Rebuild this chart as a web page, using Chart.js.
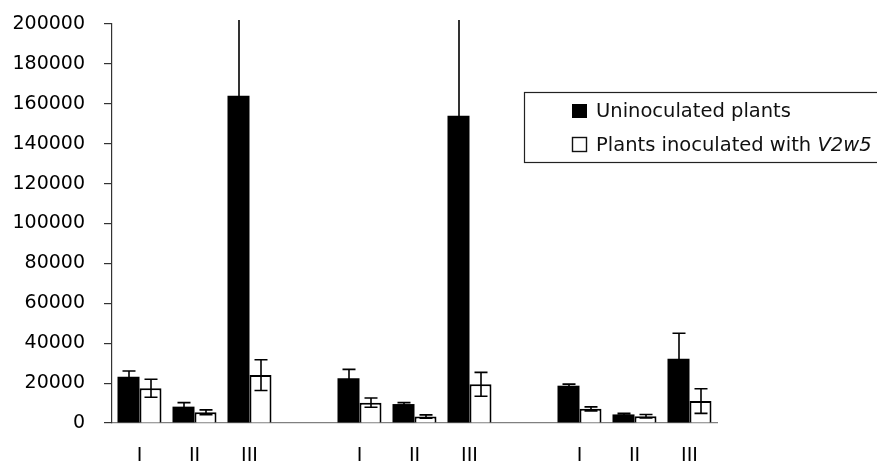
<!DOCTYPE html>
<html>
<head>
<meta charset="utf-8">
<script src="https://cdn.jsdelivr.net/npm/chart.js@4.4.1/dist/chart.umd.min.js"></script>
<style>
  html, body { margin: 0; padding: 0; background: #fff; overflow: hidden; }
  #wrap { width: 877px; height: 463px; position: relative; }
</style>
</head>
<body>
<div id="wrap"><canvas id="chart"></canvas></div>
<script>
// categories: three groups of I, II, III with an empty slot between groups
const categories = ['I', 'II', 'III', '', 'I', 'II', 'III', '', 'I', 'II', 'III'];

const uninoculated    = [23200, 8200, 164000, null, 22400, 9500, 154000, null, 18700, 4300, 32200];
const uninoculatedErr = [2900, 2000, 60000, null, 4500, 700, 60000, null, 800, 500, 12800];

const inoculated    = [17400, 5400, 24000, null, 10200, 3200, 19400, null, 7100, 3400, 11000];
const inoculatedErr = [4500, 1200, 7700, null, 2300, 850, 6000, null, 1000, 850, 6200];

const seriesLabels = ['Uninoculated plants', 'Plants inoculated with V2w5'];
const italicTerm = 'V2w5';

const yTicks = { min: 0, max: 200000, step: 20000 };

const FONT = 'DejaVu Sans';

// error bars drawn on top of the bars, using the y scale
const errorBars = {
  id: 'errorBars',
  afterDatasetsDraw(chart) {
    const { ctx, chartArea, scales: { y } } = chart;
    ctx.save();
    ctx.strokeStyle = '#000';
    ctx.lineWidth = 1.6;
    chart.data.datasets.forEach((ds, i) => {
      const meta = chart.getDatasetMeta(i);
      meta.data.forEach((bar, j) => {
        const v = ds.data[j], e = ds.errors[j];
        if (v == null || e == null) return;
        const x = Math.round(bar.x);
        let top = y.getPixelForValue(v + e);
        const bot = y.getPixelForValue(Math.max(v - e, 0));
        const clipped = top < chartArea.top - 4;
        if (clipped) top = chartArea.top - 4;
        const cap = 6.5;
        ctx.beginPath();
        ctx.moveTo(x, top);
        ctx.lineTo(x, bot);
        if (!clipped) {
          ctx.moveTo(x - cap, top);
          ctx.lineTo(x + cap, top);
        }
        ctx.moveTo(x - cap, bot);
        ctx.lineTo(x + cap, bot);
        ctx.stroke();
      });
    });
    ctx.restore();
  }
};

// boxed legend sitting inside the plot, with the strain name in italics
const boxLegend = {
  id: 'boxLegend',
  afterDraw(chart) {
    const { ctx } = chart;
    const boxX = 524.5, boxY = 92.5, boxH = 70;
    ctx.save();
    ctx.strokeStyle = '#222';
    ctx.lineWidth = 1.2;
    ctx.strokeRect(boxX, boxY, 400, boxH);

    const rows = [117, 151];
    chart.data.datasets.forEach((ds, i) => {
      const base = rows[i];
      // marker
      if (ds.backgroundColor === '#000') {
        ctx.fillStyle = '#000';
        ctx.fillRect(572, base - 13, 15, 14);
      } else {
        ctx.strokeStyle = '#111';
        ctx.lineWidth = 1.4;
        ctx.strokeRect(572.5, base - 13.5, 14, 14);
      }
      // text
      ctx.fillStyle = '#111';
      ctx.textBaseline = 'alphabetic';
      ctx.textAlign = 'left';
      const label = ds.label;
      const k = label.indexOf(italicTerm);
      let x = 596;
      const plain = k >= 0 ? label.slice(0, k) : label;
      ctx.font = `19.5px "${FONT}"`;
      ctx.fillText(plain, x, base);
      x += ctx.measureText(plain).width;
      if (k >= 0) {
        ctx.font = `italic 19.5px "${FONT}"`;
        ctx.fillText(italicTerm, x, base);
      }
    });
    ctx.restore();
  }
};

new Chart(document.getElementById('chart'), {
  type: 'bar',
  plugins: [errorBars, boxLegend],
  data: {
    labels: categories,
    datasets: [
      {
        label: seriesLabels[0],
        data: uninoculated,
        errors: uninoculatedErr,
        backgroundColor: '#000',
        borderColor: '#000',
        borderWidth: 0,
        categoryPercentage: 0.8,
        barPercentage: 1.0
      },
      {
        label: seriesLabels[1],
        data: inoculated,
        errors: inoculatedErr,
        backgroundColor: '#fff',
        borderColor: '#000',
        borderWidth: 2,
        categoryPercentage: 0.8,
        barPercentage: 1.0
      }
    ]
  },
  options: {
    responsive: true,
    maintainAspectRatio: false,
    animation: false,
    layout: { padding: { left: 13, right: 160, top: 24, bottom: 0 } },
    plugins: {
      legend: { display: false },
      tooltip: { enabled: false }
    },
    scales: {
      x: {
        grid: { display: false, drawTicks: false },
        border: { color: '#808080', width: 1.2 },
        ticks: {
          font: { family: FONT, size: 19 },
          color: '#000',
          padding: 22,
          autoSkip: false,
          maxRotation: 0
        },
        afterFit: (scale) => { scale.height = 40; }
      },
      y: {
        min: yTicks.min,
        max: yTicks.max,
        border: { color: '#333', width: 1.2 },
        grid: { drawOnChartArea: false, tickLength: 8, color: '#333', lineWidth: 1.2 },
        ticks: {
          stepSize: yTicks.step,
          font: { family: FONT, size: 19 },
          color: '#000',
          padding: 19,
          callback: (v) => String(v)
        },
        afterFit: (scale) => {
          scale.width = 99;
          scale.paddingTop = 0;
        }
      }
    }
  }
});
</script>
</body>
</html>
